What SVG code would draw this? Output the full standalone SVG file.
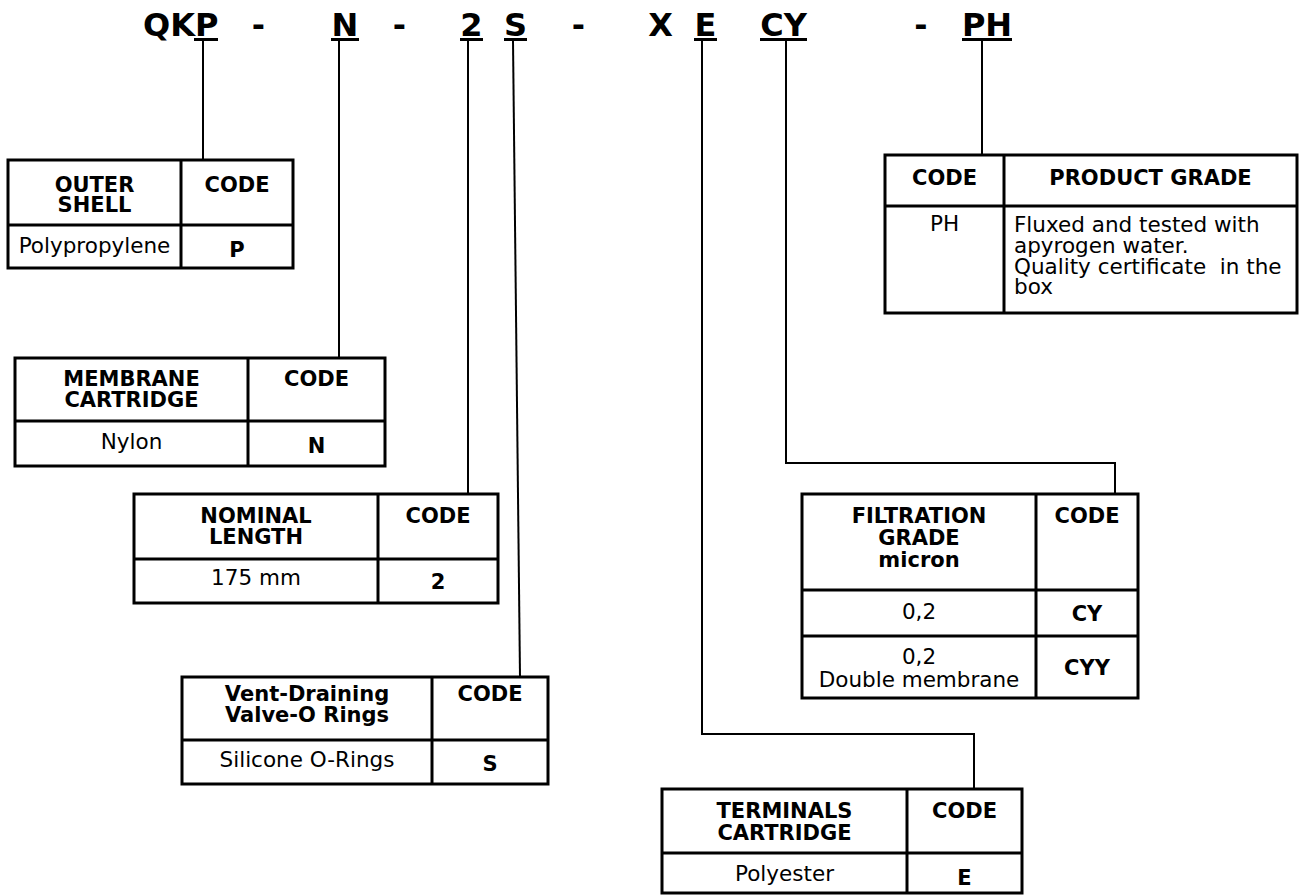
<svg xmlns="http://www.w3.org/2000/svg" width="1299" height="895" viewBox="0 0 1299 895">
<style>
.title{font-family:"DejaVu Sans",Verdana,sans-serif;font-weight:bold;font-size:32px;fill:#000}
.h{font-family:"DejaVu Sans",Verdana,sans-serif;font-weight:bold;font-size:21px;fill:#000;text-anchor:middle}
.t{font-family:"DejaVu Sans",Verdana,sans-serif;font-size:21.5px;fill:#000;text-anchor:middle}
.tl{font-family:"DejaVu Sans",Verdana,sans-serif;font-size:21.5px;fill:#000;white-space:pre}
.b{fill:#fff;stroke:#000;stroke-width:3}
.g{stroke:#000;stroke-width:3;fill:none}
.c{stroke:#000;stroke-width:2;fill:none}
.ul{stroke:#000;stroke-width:3}
</style>
<rect width="1299" height="895" fill="#fff"/>
<g id="title">
<text class="title" x="143" y="36">QKP</text>
<text class="title" x="258.5" y="36" text-anchor="middle">-</text>
<text class="title" x="345" y="36" text-anchor="middle">N</text>
<text class="title" x="399.5" y="36" text-anchor="middle">-</text>
<text class="title" x="471.5" y="36" text-anchor="middle">2</text>
<text class="title" x="515.5" y="36" text-anchor="middle">S</text>
<text class="title" x="578.5" y="36" text-anchor="middle">-</text>
<text class="title" x="660.5" y="36" text-anchor="middle">X</text>
<text class="title" x="705.5" y="36" text-anchor="middle">E</text>
<text class="title" x="783.5" y="36" text-anchor="middle">CY</text>
<text class="title" x="921" y="36" text-anchor="middle">-</text>
<text class="title" x="987" y="36" text-anchor="middle">PH</text>
<line class="ul" x1="194" y1="39.5" x2="218" y2="39.5"/>
<line class="ul" x1="331" y1="39.5" x2="359" y2="39.5"/>
<line class="ul" x1="460" y1="39.5" x2="483" y2="39.5"/>
<line class="ul" x1="504" y1="39.5" x2="527" y2="39.5"/>
<line class="ul" x1="694" y1="39.5" x2="717" y2="39.5"/>
<line class="ul" x1="760" y1="39.5" x2="807" y2="39.5"/>
<line class="ul" x1="962" y1="39.5" x2="1012" y2="39.5"/>
</g>
<g id="connectors">
<line class="c" x1="203" y1="41" x2="203" y2="160"/>
<line class="c" x1="339" y1="41" x2="339" y2="358"/>
<line class="c" x1="468" y1="41" x2="468" y2="494"/>
<line class="c" x1="513" y1="41" x2="520" y2="677"/>
<polyline class="c" points="702,41 702,734 974,734 974,789"/>
<polyline class="c" points="786,41 786,463 1115,463 1115,494"/>
<line class="c" x1="982" y1="41" x2="982" y2="155"/>
</g>
<g id="outer-shell">
<rect class="b" x="8" y="160" width="285" height="108"/>
<line class="g" x1="8" y1="225" x2="293" y2="225"/>
<line class="g" x1="181" y1="160" x2="181" y2="268"/>
<text class="h" x="94.5" y="192">OUTER</text>
<text class="h" x="94.5" y="212">SHELL</text>
<text class="h" x="237" y="192">CODE</text>
<text class="t" x="94.5" y="253">Polypropylene</text>
<text class="h" x="237" y="257">P</text>
</g>
<g id="membrane">
<rect class="b" x="15" y="358" width="370" height="108"/>
<line class="g" x1="15" y1="421" x2="385" y2="421"/>
<line class="g" x1="248" y1="358" x2="248" y2="466"/>
<text class="h" x="131.5" y="386">MEMBRANE</text>
<text class="h" x="131.5" y="407">CARTRIDGE</text>
<text class="h" x="316.5" y="386">CODE</text>
<text class="t" x="131.5" y="449">Nylon</text>
<text class="h" x="316.5" y="453">N</text>
</g>
<g id="nominal-length">
<rect class="b" x="134" y="494" width="364" height="109"/>
<line class="g" x1="134" y1="559" x2="498" y2="559"/>
<line class="g" x1="378" y1="494" x2="378" y2="603"/>
<text class="h" x="256" y="523">NOMINAL</text>
<text class="h" x="256" y="544">LENGTH</text>
<text class="h" x="438" y="523">CODE</text>
<text class="t" x="256" y="585">175 mm</text>
<text class="h" x="438" y="589">2</text>
</g>
<g id="vent-draining">
<rect class="b" x="182" y="677" width="366" height="107"/>
<line class="g" x1="182" y1="740" x2="548" y2="740"/>
<line class="g" x1="432" y1="677" x2="432" y2="784"/>
<text class="h" x="307" y="701">Vent-Draining</text>
<text class="h" x="307" y="722">Valve-O Rings</text>
<text class="h" x="490" y="701">CODE</text>
<text class="t" x="307" y="767">Silicone O-Rings</text>
<text class="h" x="490" y="771">S</text>
</g>
<g id="product-grade">
<rect class="b" x="885" y="155" width="412" height="158"/>
<line class="g" x1="885" y1="206" x2="1297" y2="206"/>
<line class="g" x1="1004" y1="155" x2="1004" y2="313"/>
<text class="h" x="944.5" y="185">CODE</text>
<text class="h" x="1150.5" y="185">PRODUCT GRADE</text>
<text class="t" x="944.5" y="231">PH</text>
<text class="tl" x="1014" y="232">Fluxed and tested with</text>
<text class="tl" x="1014" y="253">apyrogen water.</text>
<text class="tl" x="1014" y="274">Quality certificate  in the</text>
<text class="tl" x="1014" y="294">box</text>
</g>
<g id="filtration-grade">
<rect class="b" x="802" y="494" width="336" height="204"/>
<line class="g" x1="802" y1="590" x2="1138" y2="590"/>
<line class="g" x1="802" y1="636" x2="1138" y2="636"/>
<line class="g" x1="1036" y1="494" x2="1036" y2="698"/>
<text class="h" x="919" y="523">FILTRATION</text>
<text class="h" x="919" y="545">GRADE</text>
<text class="h" x="919" y="567">micron</text>
<text class="h" x="1087" y="523">CODE</text>
<text class="t" x="919" y="619">0,2</text>
<text class="h" x="1087" y="621">CY</text>
<text class="t" x="919" y="664">0,2</text>
<text class="t" x="919" y="687">Double membrane</text>
<text class="h" x="1087" y="675">CYY</text>
</g>
<g id="terminals">
<rect class="b" x="662" y="789" width="360" height="104"/>
<line class="g" x1="662" y1="853" x2="1022" y2="853"/>
<line class="g" x1="907" y1="789" x2="907" y2="893"/>
<text class="h" x="784.5" y="818">TERMINALS</text>
<text class="h" x="784.5" y="840">CARTRIDGE</text>
<text class="h" x="964.5" y="818">CODE</text>
<text class="t" x="784.5" y="881">Polyester</text>
<text class="h" x="964.5" y="885">E</text>
</g>
</svg>
